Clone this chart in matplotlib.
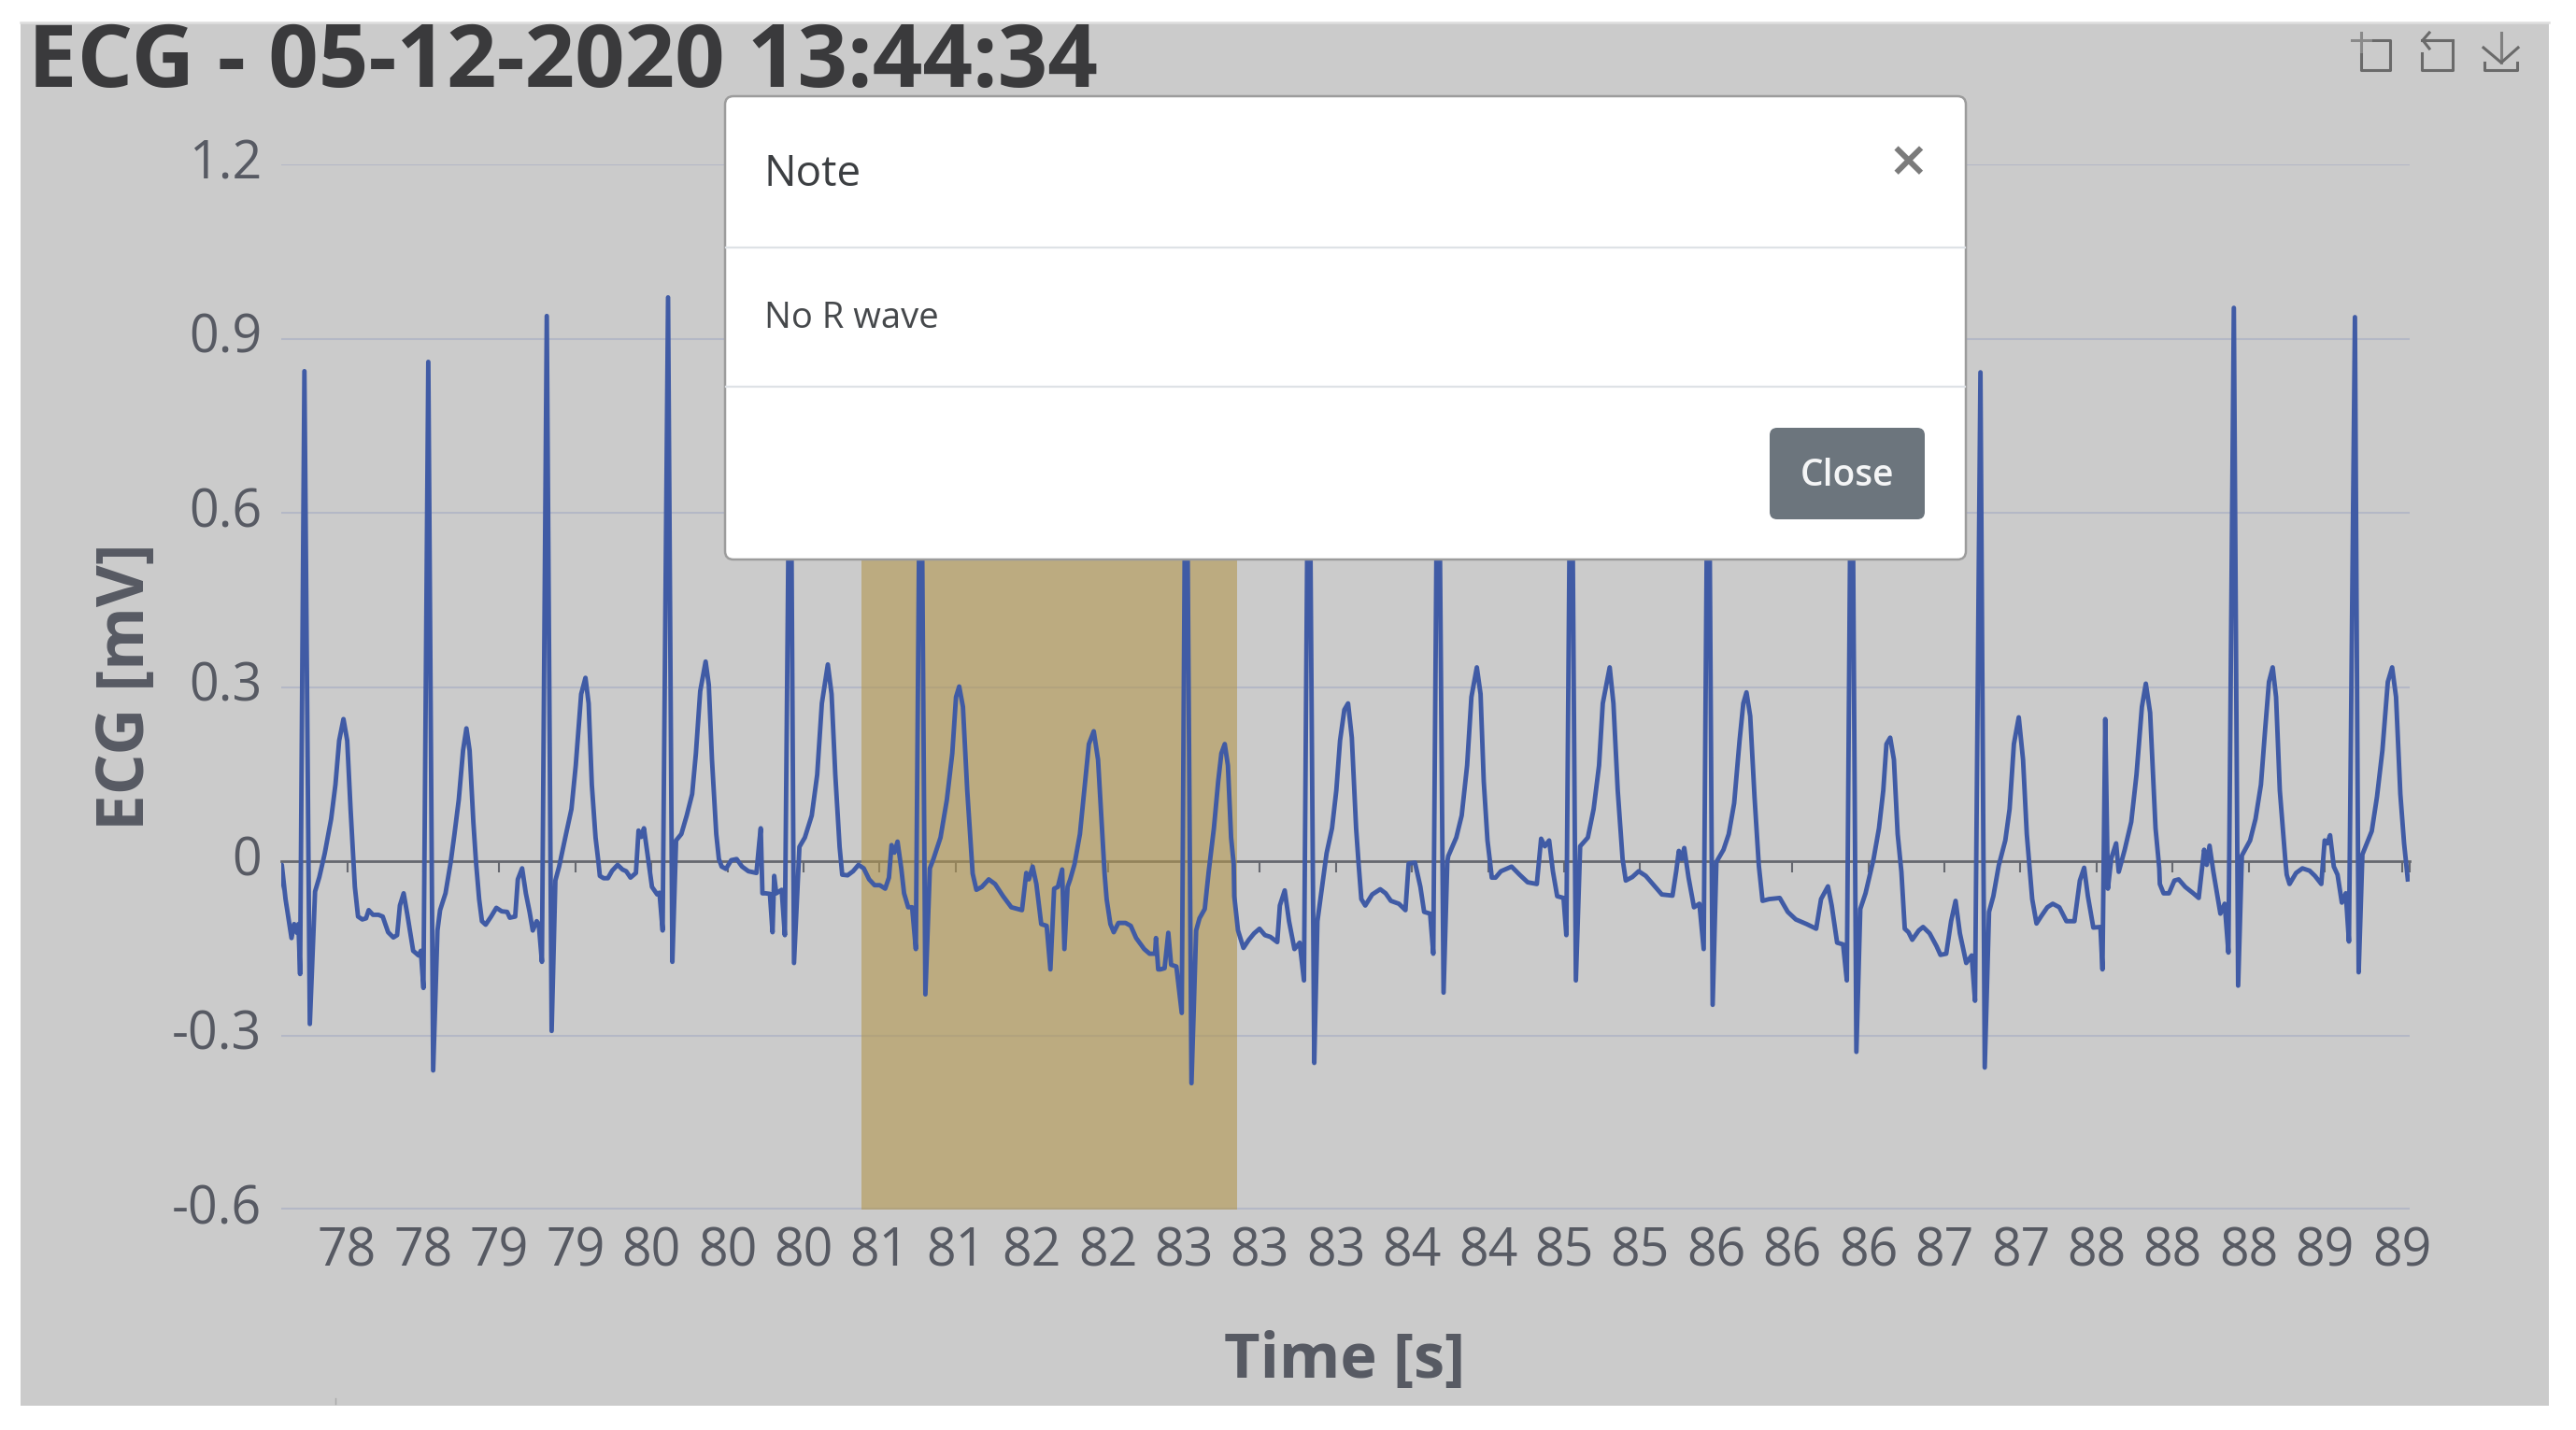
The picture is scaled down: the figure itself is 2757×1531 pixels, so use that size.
import matplotlib
matplotlib.use('Agg')
import matplotlib.pyplot as plt
from matplotlib.patches import FancyBboxPatch, Rectangle
from matplotlib.lines import Line2D
from matplotlib.transforms import Affine2D

W, H = 2757, 1531

title = 'ECG - 05-12-2020 13:44:34'
x_title = 'Time [s]'
y_title = 'ECG [mV]'
y_ticks = [-0.6, -0.3, 0, 0.3, 0.6, 0.9, 1.2]
y_labels = ['-0.6', '-0.3', '0', '0.3', '0.6', '0.9', '1.2']
x_labels = ['78', '78', '79', '79', '80', '80', '80', '81', '81', '82', '82', '83', '83', '83',
            '84', '84', '85', '85', '86', '86', '86', '87', '87', '88', '88', '88', '89', '89']
x_ticks = [77.993, 78.400, 78.807, 79.214, 79.621, 80.028, 80.435, 80.842, 81.249, 81.656,
           82.063, 82.470, 82.877, 83.284, 83.691, 84.098, 84.505, 84.912, 85.319, 85.726,
           86.133, 86.540, 86.947, 87.354, 87.761, 88.168, 88.575, 88.989, 89.030]
highlight_start, highlight_end = 80.743, 82.755

time_a = [77.629,77.643,77.663,77.695,77.709,77.724,77.732,77.741,77.764,77.793,
          77.821,77.844,77.873,77.907,77.930,77.950,77.973,77.993,78.011,78.028,
          78.034,78.051,78.074,78.094,78.108,78.131,78.160,78.183,78.212,78.240,
          78.260,78.275,78.295,78.315,78.346,78.375,78.387,78.401,78.427,78.453,
          78.476,78.490,78.519,78.547,78.567,78.590,78.613,78.631,78.648,78.668,
          78.682,78.699,78.714,78.734,78.763,78.791,78.820,78.849,78.863,78.892,
          78.906,78.929,78.949,78.969,78.986,79.007,79.018,79.035,79.061,79.087,
          79.107,79.127,79.164,79.193,79.216,79.245,79.268,79.285,79.302,79.322,
          79.337,79.345,79.365,79.388,79.411,79.440,79.466,79.486,79.509,79.538,
          79.552,79.566,79.581,79.601,79.624,79.652,79.664,79.681,79.710,79.733,
          79.753,79.781,79.810,79.839,79.859,79.882,79.911,79.928,79.945,79.968,
          79.982,79.997,80.020,80.048,80.077,80.106,80.140,80.183,80.198,80.206,
          80.215,80.232,80.255,80.269,80.278,80.289,80.318,80.335,80.364,80.384,
          80.413,80.442,80.479,80.508,80.533,80.565,80.585,80.605,80.628,80.642,
          80.671,80.700,80.729,80.757,80.786,80.815,80.843,80.872,80.892,80.906,
          80.921,80.938,80.958,80.973,80.995,81.016,81.036,81.062,81.087,81.111,
          81.130,81.168,81.202,81.231,81.251,81.268,81.288,81.311,81.340,81.360,
          81.389,81.426,81.460,81.503,81.547,81.604,81.627,81.641,81.661,81.681,
          81.707,81.736,81.756,81.776,81.796,81.819,81.831,81.848,81.862]
mv_a = [-.047,-.006,-.065,-.132,-.108,-.123,-.108,-.194,.844,-.280,
        -.052,-.027,.014,.073,.132,.208,.245,.208,.090,-.010,
        -.044,-.095,-.100,-.098,-.084,-.092,-.092,-.095,-.122,-.131,
        -.127,-.076,-.055,-.092,-.154,-.162,-.154,-.218,.860,-.360,
        -.119,-.084,-.055,-.001,.047,.106,.191,.229,.191,.068,
        0,-.065,-.103,-.109,-.095,-.080,-.086,-.087,-.097,-.095,
        -.031,-.012,-.055,-.087,-.119,-.103,-.108,-.173,.939,-.292,
        -.033,-.009,.047,.090,.165,.288,.316,.272,.132,.041,
        0,-.025,-.029,-.029,-.016,-.006,-.014,-.017,-.028,-.020,
        .053,.042,.057,.010,-.044,-.057,-.054,-.119,.971,-.173,
        .036,.047,.079,.116,.186,.293,.344,.304,.175,.047,
        .004,-.009,-.013,.002,.004,-.009,-.017,-.020,.032,.057,
        -.055,-.055,-.056,-.122,-.025,-.055,-.049,-.127,.900,-.175,
        .025,.041,.079,.149,.272,.339,.288,.149,.025,-.023,
        -.024,-.017,-.006,-.012,-.031,-.041,-.041,-.047,-.028,.028,
        .015,.034,-.012,-.055,-.079,-.079,-.151,.900,-.229,-.012,
        .004,.041,.106,.186,.283,.301,.266,.122,-.021,-.049,
        -.044,-.031,-.039,-.060,-.079,-.084,-.020,-.031,-.009,-.039,
        -.108,-.111,-.186,-.047,-.044,-.014,-.151,-.044,-.031]

time_b = [81.885,81.914,81.937,81.962,81.988,82.011,82.034,82.046,82.057,82.077,
          82.095,82.120,82.158,82.186,82.215,82.258,82.287,82.316,82.321,82.333,
          82.344,82.367,82.387,82.402,82.430,82.459,82.482,82.511,82.536,82.554,
          82.582,82.603,82.631,82.654,82.671,82.689,82.706,82.723,82.737,82.740,
          82.760,82.789,82.818,82.846,82.875,82.904,82.933,82.970,82.984,83.010,
          83.033,83.062,83.090,83.113,83.139,83.168,83.185,83.205,83.234,83.263,
          83.286,83.306,83.329,83.349,83.369,83.392,83.406,83.420,83.441,83.478,
          83.521,83.550,83.578,83.621,83.656,83.673,83.707,83.736,83.756,83.788,
          83.805,83.831,83.860,83.880,83.885,83.928,83.957,83.986,84.009,84.038,
          84.058,84.075,84.095,84.109,84.118,84.138,84.167,84.224,84.267,84.310,
          84.359,84.382,84.402,84.425,84.445,84.468,84.502,84.517,84.543,84.568,
          84.591,84.632,84.663,84.692,84.712,84.749,84.769,84.792,84.818,84.835,
          84.870,84.904,84.942,84.985,85.028,85.085,85.105,85.119,85.134,85.148,
          85.171,85.200,85.229,85.252,85.277,85.300,85.320,85.358,85.386,85.415,
          85.444,85.464,85.481,85.501,85.524,85.547,85.567,85.602,85.659,85.702,
          85.745,85.803,85.854,85.880,85.917,85.937,85.966,85.998,86.018,86.044,
          86.069,86.090,86.118,86.161,86.190,86.213,86.230,86.250,86.270,86.290,
          86.310,86.328,86.348,86.368]
mv_b = [-.005,.047,.122,.202,.224,.175,.047,-.021,-.065,-.108,
        -.122,-.106,-.106,-.111,-.132,-.151,-.159,-.159,-.132,-.186,
        -.186,-.184,-.123,-.178,-.181,-.261,.912,-.382,-.119,-.098,
        -.082,-.018,.057,.138,.186,.202,.165,.041,-.005,-.060,
        -.119,-.149,-.135,-.124,-.116,-.127,-.130,-.139,-.076,-.050,
        -.103,-.151,-.140,-.205,.912,-.347,-.103,-.055,.014,.057,
        .122,.208,.261,.272,.213,.057,-.007,-.065,-.076,-.057,
        -.048,-.055,-.068,-.073,-.084,-.004,-.002,-.044,-.087,-.090,
        -.159,.912,-.226,-.001,.009,.041,.079,.165,.283,.334,
        .288,.138,.036,-.002,-.028,-.028,-.017,-.009,-.023,-.036,
        -.039,.039,.026,.036,-.017,-.060,-.063,-.127,.912,-.205,
        .026,.041,.090,.165,.272,.334,.272,.122,.004,-.033,
        -.027,-.017,-.025,-.041,-.057,-.059,-.017,.018,.004,.023,
        -.028,-.079,-.073,-.151,.912,-.247,-.001,.020,.047,.100,
        .208,.272,.291,.250,.111,-.007,-.068,-.065,-.063,-.087,
        -.100,-.108,-.116,-.065,-.043,-.076,-.140,-.143,-.205,.912,
        -.328,-.082,-.055,.004,.057,.122,.202,.213,.175,.047,
        -.018,-.116,-.122,-.135]

time_c = [86.403,86.426,86.461,86.498,86.519,86.550,86.576,86.600,86.623,86.657,
          86.686,86.704,86.733,86.756,86.779,86.802,86.831,86.866,86.889,86.912,
          86.938,86.961,86.981,86.999,87.010,87.033,87.057,87.091,87.120,87.155,
          87.193,87.236,87.265,87.288,87.308,87.337,87.375,87.386,87.401,87.415,
          87.433,87.459,87.473,87.505,87.540,87.568,87.597,87.618,87.641,87.670,
          87.690,87.693,87.713,87.742,87.771,87.794,87.829,87.872,87.901,87.930,
          87.944,87.959,87.979,88.017,88.040,88.060,88.089,88.112,88.132,88.176,
          88.205,88.234,88.257,88.277,88.297,88.315,88.335,88.364,88.372,88.387,
          88.422,88.456,88.494,88.523,88.557,88.575,88.589,88.604,88.624,88.644,
          88.667,88.688,88.705,88.737,88.757,88.777,88.827,88.855,88.884,88.913,
          88.936,88.957,88.980,89.000,89.020]
mv_c = [-.119,-.113,-.124,-.146,-.161,-.159,-.103,-.068,-.124,-.175,
        -.162,-.240,.842,-.355,-.087,-.060,-.007,.036,.090,.202,
        .248,.175,.047,-.023,-.065,-.107,-.095,-.079,-.073,-.079,
        -.103,-.103,-.033,-.011,-.060,-.114,-.113,-.186,.245,-.047,
        .005,.031,-.018,.020,.068,.149,.266,.306,.256,.057,
        -.012,-.039,-.055,-.055,-.033,-.031,-.044,-.055,-.063,.020,
        -.006,.027,-.017,-.090,-.073,-.157,.953,-.214,.010,.036,
        .073,.132,.229,.309,.334,.283,.122,.004,-.023,-.039,
        -.020,-.012,-.016,-.025,-.039,.036,.031,.045,-.009,-.023,
        -.071,-.055,-.138,.937,-.191,.012,.052,.111,.191,.309,
        .334,.283,.116,.031,-.031]

plt.rcParams['font.family'] = ['Open Sans', 'DejaVu Sans']
TEXT = '#575a63'
fig = plt.figure(figsize=(W / 100, H / 100), dpi=100, facecolor='white')
px = Affine2D().scale(1 / W, -1 / H).translate(0, 1) + fig.transFigure

# grey (dimmed) page behind the chart
fig.add_artist(Rectangle((22, 24), 2706, 1481, transform=px, fc='#cbcbcb', ec='none', zorder=-5))
fig.add_artist(Line2D([22, 2728], [24, 24], transform=px, color='#dedede', lw=1.8, zorder=-4))

ax = fig.add_axes([300.5 / W, 1 - 1295.3 / H, (2579 - 300.5) / W, (1295.3 - 176) / H])
ax.set_facecolor('none')
ax.set_xlim(77.6375, 89.03)
ax.set_ylim(-0.6, 1.2)
for s in ax.spines.values():
    s.set_visible(False)

ax.set_yticks(y_ticks, y_labels)
ax.tick_params(axis='y', length=0, pad=14.5, labelsize=40, labelcolor=TEXT)
for lab in ax.get_yticklabels():
    lab.set_transform(lab.get_transform() + Affine2D().translate(0, 6.5))
ax.grid(axis='y', color='#b4b8c6', lw=1.5, zorder=0)
ax.set_axisbelow(True)
ax.set_xticks(x_ticks[:-1], x_labels)
ax.tick_params(axis='x', length=0, pad=12.5, labelsize=40, labelcolor=TEXT)
ax.get_ygridlines()[0].set_linewidth(3)

zero = ax.secondary_xaxis(1 / 3)
zero.set_xticks(x_ticks)
zero.tick_params(axis='x', length=8.5, width=1.5, color='#66686f', labelbottom=False)
for name, s in zero.spines.items():
    s.set_visible(name == 'bottom')
zero.spines['bottom'].set_color('#66686f')
zero.spines['bottom'].set_linewidth(2)
zero.set_zorder(0.5)

ax.axvspan(highlight_start, highlight_end, color='#b2964e', alpha=0.6, lw=0, zorder=1)
ax.plot(time_a + time_b + time_c, mv_a + mv_b + mv_c, color='#405ba5', lw=3.5,
        solid_joinstyle='round', zorder=3)

fig.suptitle(title, x=30 / W, y=1 - 93 / H, ha='left', va='baseline', fontsize=67.5,
             fontweight='bold', color='#3a3a3c')
ax.set_xlabel(x_title, fontsize=48, fontweight='bold', color=TEXT)
ax.xaxis.set_label_coords(1439.5, 1475.5, transform=px)
ax.xaxis.label.set_va('baseline')
ax.set_ylabel(y_title, fontsize=49.7, fontweight='bold', color=TEXT, rotation=90)
ax.yaxis.set_label_coords(154, 735.5, transform=px)
ax.yaxis.label.set_va('baseline')
ax.yaxis.label.set_ha('center')

# toolbox icons
ICON = '#6a6a6a'
def seg(xs, ys, lw=2.2, c=ICON):
    fig.add_artist(Line2D(xs, ys, transform=px, color=c, lw=lw, zorder=6))
seg([2517, 2538], [43, 43], c='#8a8a8a'); seg([2540, 2558, 2558, 2527, 2527], [43, 43, 75, 75, 58])
seg([2527, 2527], [35, 55], c='#8a8a8a')
seg([2592, 2625, 2625, 2592, 2592], [43, 43, 75, 75, 57]); seg([2600, 2593, 2600], [35, 43, 52]); seg([2593, 2625], [43, 43])
seg([2677, 2677], [35, 67], c='#808080'); seg([2658, 2677, 2695], [51, 67, 51]); seg([2659, 2659, 2694, 2694], [67, 75, 75, 67])
seg([359, 359], [1497, 1503], lw=1, c='#a9a9a9')

# modal dialog
fig.add_artist(FancyBboxPatch((776, 103), 1328, 496, boxstyle='round,pad=0,rounding_size=9', transform=px,
                              fc='white', ec='#9c9c9c', lw=1.8, zorder=7))
fig.add_artist(Line2D([777, 2103], [264.6, 264.6], transform=px, color='#dee2e6', lw=1.6, zorder=8))
fig.add_artist(Line2D([777, 2103], [413.7, 413.7], transform=px, color='#dee2e6', lw=1.6, zorder=8))
fig.add_artist(FancyBboxPatch((1894, 458), 166, 98, boxstyle='round,pad=0,rounding_size=8', transform=px,
                              fc='#6c757d', ec='none', zorder=8))
fig.text(818, 199, 'Note', transform=px, fontsize=33, color='#3c3f42', va='baseline', ha='left', zorder=9)
fig.text(818, 351, 'No R wave', transform=px, fontsize=27.5, color='#45484b', va='baseline', ha='left', zorder=9)
fig.text(1977, 510, 'Close', transform=px, fontsize=28, fontweight='semibold', color='#f4f5f6', va='center', ha='center', zorder=9)
fig.text(2042.5, 179, '×', transform=px, fontsize=50, fontweight='semibold', color='#7b7b7b', va='center', ha='center', zorder=9)

fig.savefig('out.png', dpi=100, facecolor='white')
